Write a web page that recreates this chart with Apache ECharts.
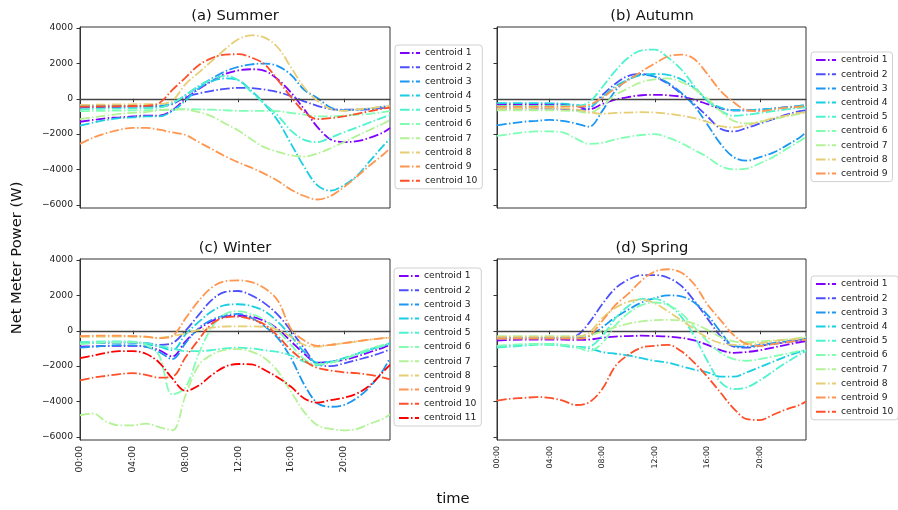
<!DOCTYPE html>
<html>
<head>
<meta charset="utf-8">
<script src="https://cdn.jsdelivr.net/npm/echarts@6/dist/echarts.min.js"></script>
<style>
html, body { margin: 0; padding: 0; background: #fff; }
#main { width: 898px; height: 510px; }
</style>
</head>
<body>
<div id="main"></div>
<script>
// 时间轴（小时），每小时读一次图
var hours = [0,1,2,3,4,5,6,7,8,9,10,11,12,13,14,15,16,17,18,19,20,21,22,23,23.5];
var tickHours = [0,4,8,12,16,20];
var tickLabels = ['00:00','04:00','08:00','12:00','16:00','20:00'];
var yTicks = [-6000,-4000,-2000,0,2000,4000];
var panelTitles = ['(a) Summer','(b) Autumn','(c) Winter','(d) Spring'];

// 每行一个 centroid
var summer = [
  [-1300,-1200,-1100,-1050,-1000,-950,-950,-650,0,550,1000,1400,1600,1670,1580,1100,350,-600,-1600,-2300,-2450,-2400,-2200,-1900,-1650],
  [-500,-490,-480,-470,-460,-450,-450,-300,100,300,450,560,620,600,520,380,150,-150,-400,-580,-620,-620,-600,-520,-480],
  [-400,-400,-400,-400,-400,-400,-400,-250,200,700,1150,1550,1800,1950,1990,1850,1350,500,50,-500,-650,-620,-550,-450,-400],
  [-1520,-1350,-1200,-1100,-1050,-1000,-1000,-700,-100,600,1000,1150,1050,450,-300,-1250,-2550,-3850,-4900,-5200,-4900,-4350,-3500,-2650,-2270],
  [-600,-580,-560,-550,-540,-530,-500,-250,200,730,1100,1300,1050,380,-300,-950,-1800,-2330,-2450,-2200,-1900,-1620,-1330,-1050,-920],
  [-700,-690,-680,-670,-660,-650,-640,-620,-580,-600,-620,-650,-680,-680,-680,-700,-800,-900,-1000,-1000,-950,-900,-850,-750,-700],
  [-1150,-1050,-950,-850,-800,-750,-650,-600,-620,-750,-1000,-1400,-1800,-2300,-2750,-3000,-3200,-3270,-3100,-2800,-2450,-2100,-1750,-1400,-1200],
  [-350,-340,-330,-320,-310,-300,-300,-100,830,1480,2140,2800,3365,3590,3460,2900,1770,640,-110,-580,-680,-600,-530,-450,-400],
  [-2550,-2200,-1950,-1750,-1650,-1650,-1750,-1900,-2050,-2450,-2850,-3250,-3600,-3900,-4250,-4650,-5150,-5500,-5700,-5500,-5000,-4400,-3750,-3150,-2800],
  [-450,-440,-430,-420,-410,-400,-250,500,1200,1900,2300,2500,2520,2330,1950,1050,100,-750,-1150,-1100,-1000,-850,-700,-550,-500]
];
var autumn = [
  [-300,-300,-300,-300,-300,-320,-400,-600,-300,-50,100,200,220,200,120,-50,-300,-550,-650,-650,-620,-550,-480,-420,-400],
  [-550,-550,-550,-550,-550,-580,-650,-550,200,850,1300,1400,1250,850,300,-300,-1000,-1700,-1850,-1650,-1400,-1150,-900,-700,-650],
  [-1500,-1400,-1300,-1250,-1200,-1250,-1400,-1580,-700,450,1100,1350,1250,900,350,-400,-1450,-2550,-3300,-3500,-3300,-3050,-2650,-2200,-1900],
  [-250,-250,-250,-250,-260,-280,-350,-450,100,700,1100,1350,1400,1350,1100,600,-100,-500,-650,-650,-600,-550,-480,-400,-350],
  [-400,-400,-400,-400,-400,-400,-400,-200,650,1580,2330,2740,2780,2330,1670,730,-110,-680,-960,-900,-800,-700,-600,-520,-480],
  [-2100,-2000,-1900,-1850,-1850,-1900,-2250,-2550,-2500,-2300,-2150,-2050,-2000,-2200,-2500,-2900,-3300,-3800,-4000,-3950,-3650,-3300,-2850,-2400,-2150],
  [-650,-650,-650,-650,-650,-670,-700,-800,-400,200,600,950,1100,1150,950,550,0,-700,-1250,-1400,-1300,-1150,-1000,-850,-780],
  [-550,-540,-530,-520,-520,-550,-600,-750,-850,-800,-780,-760,-780,-850,-950,-1100,-1300,-1550,-1620,-1500,-1300,-1100,-950,-800,-750],
  [-450,-450,-450,-450,-450,-450,-450,-350,50,600,1050,1550,2000,2400,2500,2250,1400,450,-200,-650,-700,-600,-500,-450,-400]
];
var winter = [
  [-900,-880,-860,-850,-850,-900,-1100,-1450,-600,100,550,800,850,800,550,100,-600,-1300,-1800,-1750,-1650,-1450,-1200,-950,-800],
  [-700,-690,-680,-670,-680,-700,-800,-700,0,900,1750,2200,2250,2000,1550,900,0,-1000,-1900,-2000,-1850,-1650,-1450,-1200,-1050],
  [-950,-900,-850,-820,-830,-900,-1200,-1600,-700,150,620,870,950,720,250,-420,-1550,-3050,-4100,-4300,-4200,-3800,-3150,-2200,-1520],
  [-700,-680,-660,-650,-660,-750,-900,-1100,-200,500,1100,1450,1500,1400,1100,500,-300,-1200,-1800,-1750,-1550,-1300,-1050,-850,-700],
  [-650,-620,-600,-600,-620,-700,-850,-1000,-1150,-1150,-1100,-1000,-950,-1000,-1100,-1200,-1400,-1750,-1950,-1800,-1600,-1350,-1100,-850,-750],
  [-750,-700,-650,-650,-650,-800,-1400,-3600,-3200,-1300,200,950,1100,950,600,0,-800,-1600,-1900,-1800,-1600,-1300,-1000,-800,-700],
  [-4780,-4680,-5150,-5350,-5350,-5250,-5450,-5630,-3650,-1950,-1350,-1080,-1040,-1180,-1550,-2300,-3450,-4600,-5350,-5550,-5630,-5550,-5250,-4970,-4720],
  [-350,-340,-330,-330,-340,-360,-400,-300,-150,50,180,240,250,250,220,50,-350,-800,-900,-800,-700,-600,-500,-420,-380],
  [-300,-280,-270,-280,-300,-330,-420,-300,700,1700,2450,2800,2850,2750,2400,1700,100,-550,-850,-800,-700,-600,-500,-420,-380],
  [-2800,-2650,-2550,-2450,-2400,-2500,-2650,-2600,-1500,-500,400,750,800,650,350,-300,-1100,-1700,-2100,-2250,-2350,-2400,-2500,-2650,-2750],
  [-1550,-1400,-1250,-1150,-1150,-1300,-1800,-2700,-3400,-3100,-2500,-2030,-1880,-1900,-2220,-2650,-3170,-3830,-4060,-3920,-3790,-3550,-3070,-2310,-1930]
];
var spring = [
  [-550,-520,-500,-500,-500,-500,-520,-500,-400,-330,-300,-280,-300,-330,-400,-550,-800,-1100,-1250,-1200,-1100,-950,-800,-650,-600],
  [-400,-400,-400,-400,-400,-400,-300,450,1500,2400,2900,3150,3150,3000,2550,1700,700,-300,-900,-950,-850,-750,-650,-550,-500],
  [-400,-400,-400,-400,-400,-400,-400,-300,200,750,1200,1600,1850,2000,1950,1600,900,-50,-850,-900,-800,-700,-600,-500,-450],
  [-900,-850,-800,-750,-750,-800,-900,-1000,-1200,-1300,-1400,-1550,-1700,-1800,-2000,-2200,-2350,-2600,-2600,-2350,-2050,-1750,-1450,-1200,-1100],
  [-950,-900,-850,-800,-800,-850,-950,-900,-300,700,1400,1800,1800,1500,800,-300,-1700,-2900,-3300,-3200,-2800,-2300,-1800,-1350,-1150],
  [-850,-800,-750,-750,-750,-800,-900,-1150,-700,300,1000,1450,1600,1450,1000,200,-600,-1250,-1600,-1700,-1600,-1450,-1300,-1150,-1100],
  [-300,-300,-300,-300,-300,-300,-300,-250,-50,200,400,530,600,620,580,400,50,-350,-600,-650,-600,-550,-500,-400,-350],
  [-350,-350,-350,-350,-350,-350,-350,-100,700,1300,1650,1750,1550,1100,600,100,-400,-700,-800,-750,-700,-600,-500,-450,-400],
  [-450,-450,-450,-450,-450,-450,-450,-300,550,1450,2100,2850,3350,3480,3300,2630,1500,600,-250,-750,-850,-750,-650,-550,-500],
  [-3950,-3850,-3800,-3750,-3800,-3950,-4200,-4050,-3300,-2000,-1350,-950,-850,-800,-1150,-1800,-2600,-3500,-4400,-5000,-5050,-4750,-4450,-4200,-4000]
];

// matplotlib rainbow, 11 色
var colors = ['#8000ff','#4d4ffc','#1a96f3','#1acee3','#4df3ce','#80ffb4','#b3f396','#e6ce74','#ff964f','#ff4f28','#ff0000'];
var font = 'DejaVu Sans';

var dom = document.getElementById('main');
var myChart = echarts.init(dom, null, { renderer: 'canvas' });

var panels = [summer, autumn, winter, spring];
var grids = [
  { left: 80, top: 27, width: 310, height: 181 },
  { left: 497, top: 27, width: 309, height: 181 },
  { left: 80, top: 259, width: 310, height: 181 },
  { left: 497, top: 259, width: 309, height: 181 }
];
var legendPos = [[395, 45], [811, 52], [394, 268], [811, 276]];
var titlePos = [[235, 16], [652, 16], [235, 248], [652, 248]];

var xAxes = [], yAxes = [], series = [], legends = [], graphics = [];
panels.forEach(function (rows, p) {
    var bottomRow = p >= 2;
    xAxes.push({
        type: 'value', gridIndex: p, min: 0, max: 23.5,
        axisLine: { show: true, lineStyle: { color: '#333', width: 1 } },
        axisTick: { show: true, inside: false, length: 3.5, customValues: tickHours, lineStyle: { color: '#333' } },
        axisLabel: {
            show: bottomRow, rotate: 90, margin: 6, customValues: tickHours,
            fontSize: p === 3 ? 7.8 : 9.2, color: '#222', fontFamily: font,
            formatter: function (v) { return tickLabels[tickHours.indexOf(v)]; }
        },
        splitLine: { show: false }
    });
    yAxes.push({
        type: 'value', gridIndex: p, min: -6180, max: 4060,
        axisLine: { show: true, lineStyle: { color: '#333', width: 1 } },
        axisTick: { show: true, inside: false, length: 3.5, customValues: yTicks, lineStyle: { color: '#333' } },
        axisLabel: {
            show: p % 2 === 0, margin: 7, customValues: yTicks,
            fontSize: 9.2, color: '#222', fontFamily: font,
            formatter: function (v) { return String(v).replace('-', '\u2212'); }
        },
        splitLine: { show: false }
    });
    var names = [];
    rows.forEach(function (vals, i) {
        var name = 'centroid ' + (i + 1);
        names.push(name);
        var s = {
            type: 'line', name: name, xAxisIndex: p, yAxisIndex: p,
            data: hours.map(function (h, k) { return [h, vals[k]]; }),
            smooth: 0.35, symbol: 'none', z: 2 + i,
            lineStyle: { color: colors[i], width: 1.8, type: [9.6, 2.4, 1.5, 2.4] },
            itemStyle: { color: colors[i] },
            emphasis: { disabled: true }
        };
        if (i === rows.length - 1) {
            // y=0 参考线
            s.markLine = {
                silent: true, symbol: 'none', label: { show: false },
                lineStyle: { color: '#444', width: 1.4, type: 'solid' },
                data: [{ yAxis: 0 }]
            };
        }
        series.push(s);
    });
    legends.push({
        data: names, left: legendPos[p][0], top: legendPos[p][1], orient: 'vertical',
        itemWidth: 20, itemHeight: 14, itemGap: 0.2, selectedMode: false,
        padding: [1, 5, 1, 4], borderColor: '#d0d0d0', borderWidth: 1, borderRadius: 3,
        backgroundColor: '#fff',
        itemStyle: { opacity: 0 },
        lineStyle: { width: 2 },
        textStyle: { fontSize: 9.2, color: '#222', fontFamily: font, lineHeight: 14 }
    });
    graphics.push({
        type: 'text', x: titlePos[p][0], y: titlePos[p][1],
        style: { text: panelTitles[p], textAlign: 'center', textVerticalAlign: 'middle', fontSize: 14.7, fontFamily: font, fill: '#111' }
    });
});

graphics.push({
    type: 'text', x: 17, y: 258, rotation: Math.PI / 2,
    style: { text: 'Net Meter Power (W)', textAlign: 'center', textVerticalAlign: 'middle', fontSize: 14.7, fontFamily: font, fill: '#111' }
});
graphics.push({
    type: 'text', x: 453, y: 499,
    style: { text: 'time', textAlign: 'center', textVerticalAlign: 'middle', fontSize: 14.7, fontFamily: font, fill: '#111' }
});

var option = {
    backgroundColor: '#fff',
    animation: false,
    textStyle: { fontFamily: font },
    grid: grids.map(function (g) {
        return { left: g.left, top: g.top, width: g.width, height: g.height, show: true, borderColor: '#333', borderWidth: 1, backgroundColor: 'transparent' };
    }),
    xAxis: xAxes,
    yAxis: yAxes,
    legend: legends,
    series: series,
    graphic: graphics
};
myChart.setOption(option);
</script>
</body>
</html>
